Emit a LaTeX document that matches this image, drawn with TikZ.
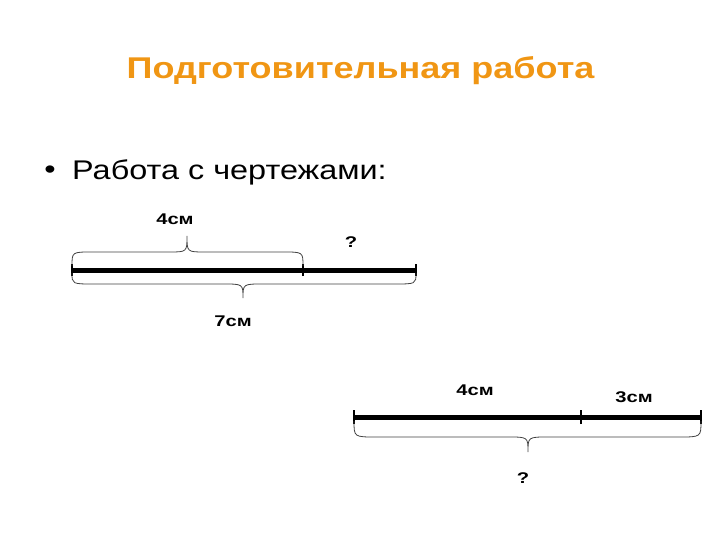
\documentclass[tikz,border=0pt]{standalone}
\usepackage{fontspec}
\setmainfont{Liberation Sans}
\newfontfamily\titlefont[FakeStretch=1.2]{Liberation Sans Bold}
\newfontfamily\bodyfont[FakeStretch=1.2]{Liberation Sans}
\newfontfamily\labelfont[FakeStretch=1.3]{Liberation Sans Bold}
\definecolor{titleorange}{RGB}{240,150,20}
\tikzset{
  seg/.style={line width=5pt},
  tick/.style={line width=2pt},
  brc/.style={line width=0.8pt, draw=black!75},
  lbl/.style={font=\labelfont\fontsize{15.5}{17}\selectfont, inner sep=0pt},
}
\begin{document}
\begin{tikzpicture}[x=1pt,y=-1pt]
\useasboundingbox (0,0) rectangle (720,540);
\node[font=\titlefont\fontsize{30}{34}\selectfont, text=titleorange, inner sep=0pt, anchor=base] (title) at (360.5,79) {Подготовительная работа};
\node[font=\bodyfont\fontsize{27}{30}\selectfont, inner sep=0pt] (bullet) at (50,172) {•};
\node[font=\bodyfont\fontsize{27}{30}\selectfont, anchor=base west, inner sep=0pt] (btext) at (72,180) {Работа с чертежами:};
% segment 1
\coordinate (A1) at (72,270);
\coordinate (M1) at (303,270);
\coordinate (B1) at (416,270);
\draw[seg] (A1) -- (B1);
\draw[tick] ([yshift=-6pt]A1) -- ([yshift=6pt]A1);
\draw[tick] ([yshift=-6pt]M1) -- ([yshift=6pt]M1);
\draw[tick] ([yshift=-6pt]B1) -- ([yshift=6pt]B1);
\draw[brc] (72,266) .. controls (72,252) .. (92,252) -- (169,252) .. controls (187,252) .. (187,236) .. controls (187,252) .. (205,252) -- (283,252) .. controls (303,252) .. (303,266);
\draw[brc] (72,273) .. controls (72,284) .. (94,284) -- (223,284) .. controls (243,284) .. (243,298) .. controls (243,284) .. (263,284) -- (394,284) .. controls (416,284) .. (416,273);
\node[lbl] (l4a) at (175,219) {4см};
\node[lbl] (qa) at (351,242) {?};
\node[lbl] (l7) at (233,321) {7см};
% segment 2
\coordinate (A2) at (354,417);
\coordinate (M2) at (581,417);
\coordinate (B2) at (701,417);
\draw[seg] (A2) -- (B2);
\draw[tick] ([yshift=-7pt]A2) -- ([yshift=7pt]A2);
\draw[tick] ([yshift=-7pt]M2) -- ([yshift=7pt]M2);
\draw[tick] ([yshift=-7pt]B2) -- ([yshift=7pt]B2);
\draw[brc] (354,421) .. controls (354,437) .. (376,437) -- (508,437) .. controls (528,437) .. (528,452) .. controls (528,437) .. (548,437) -- (679,437) .. controls (701,437) .. (701,421);
\node[lbl] (l4b) at (475,390) {4см};
\node[lbl] (l3) at (634,397) {3см};
\node[lbl] (qb) at (523,478) {?};
\end{tikzpicture}
\end{document}
